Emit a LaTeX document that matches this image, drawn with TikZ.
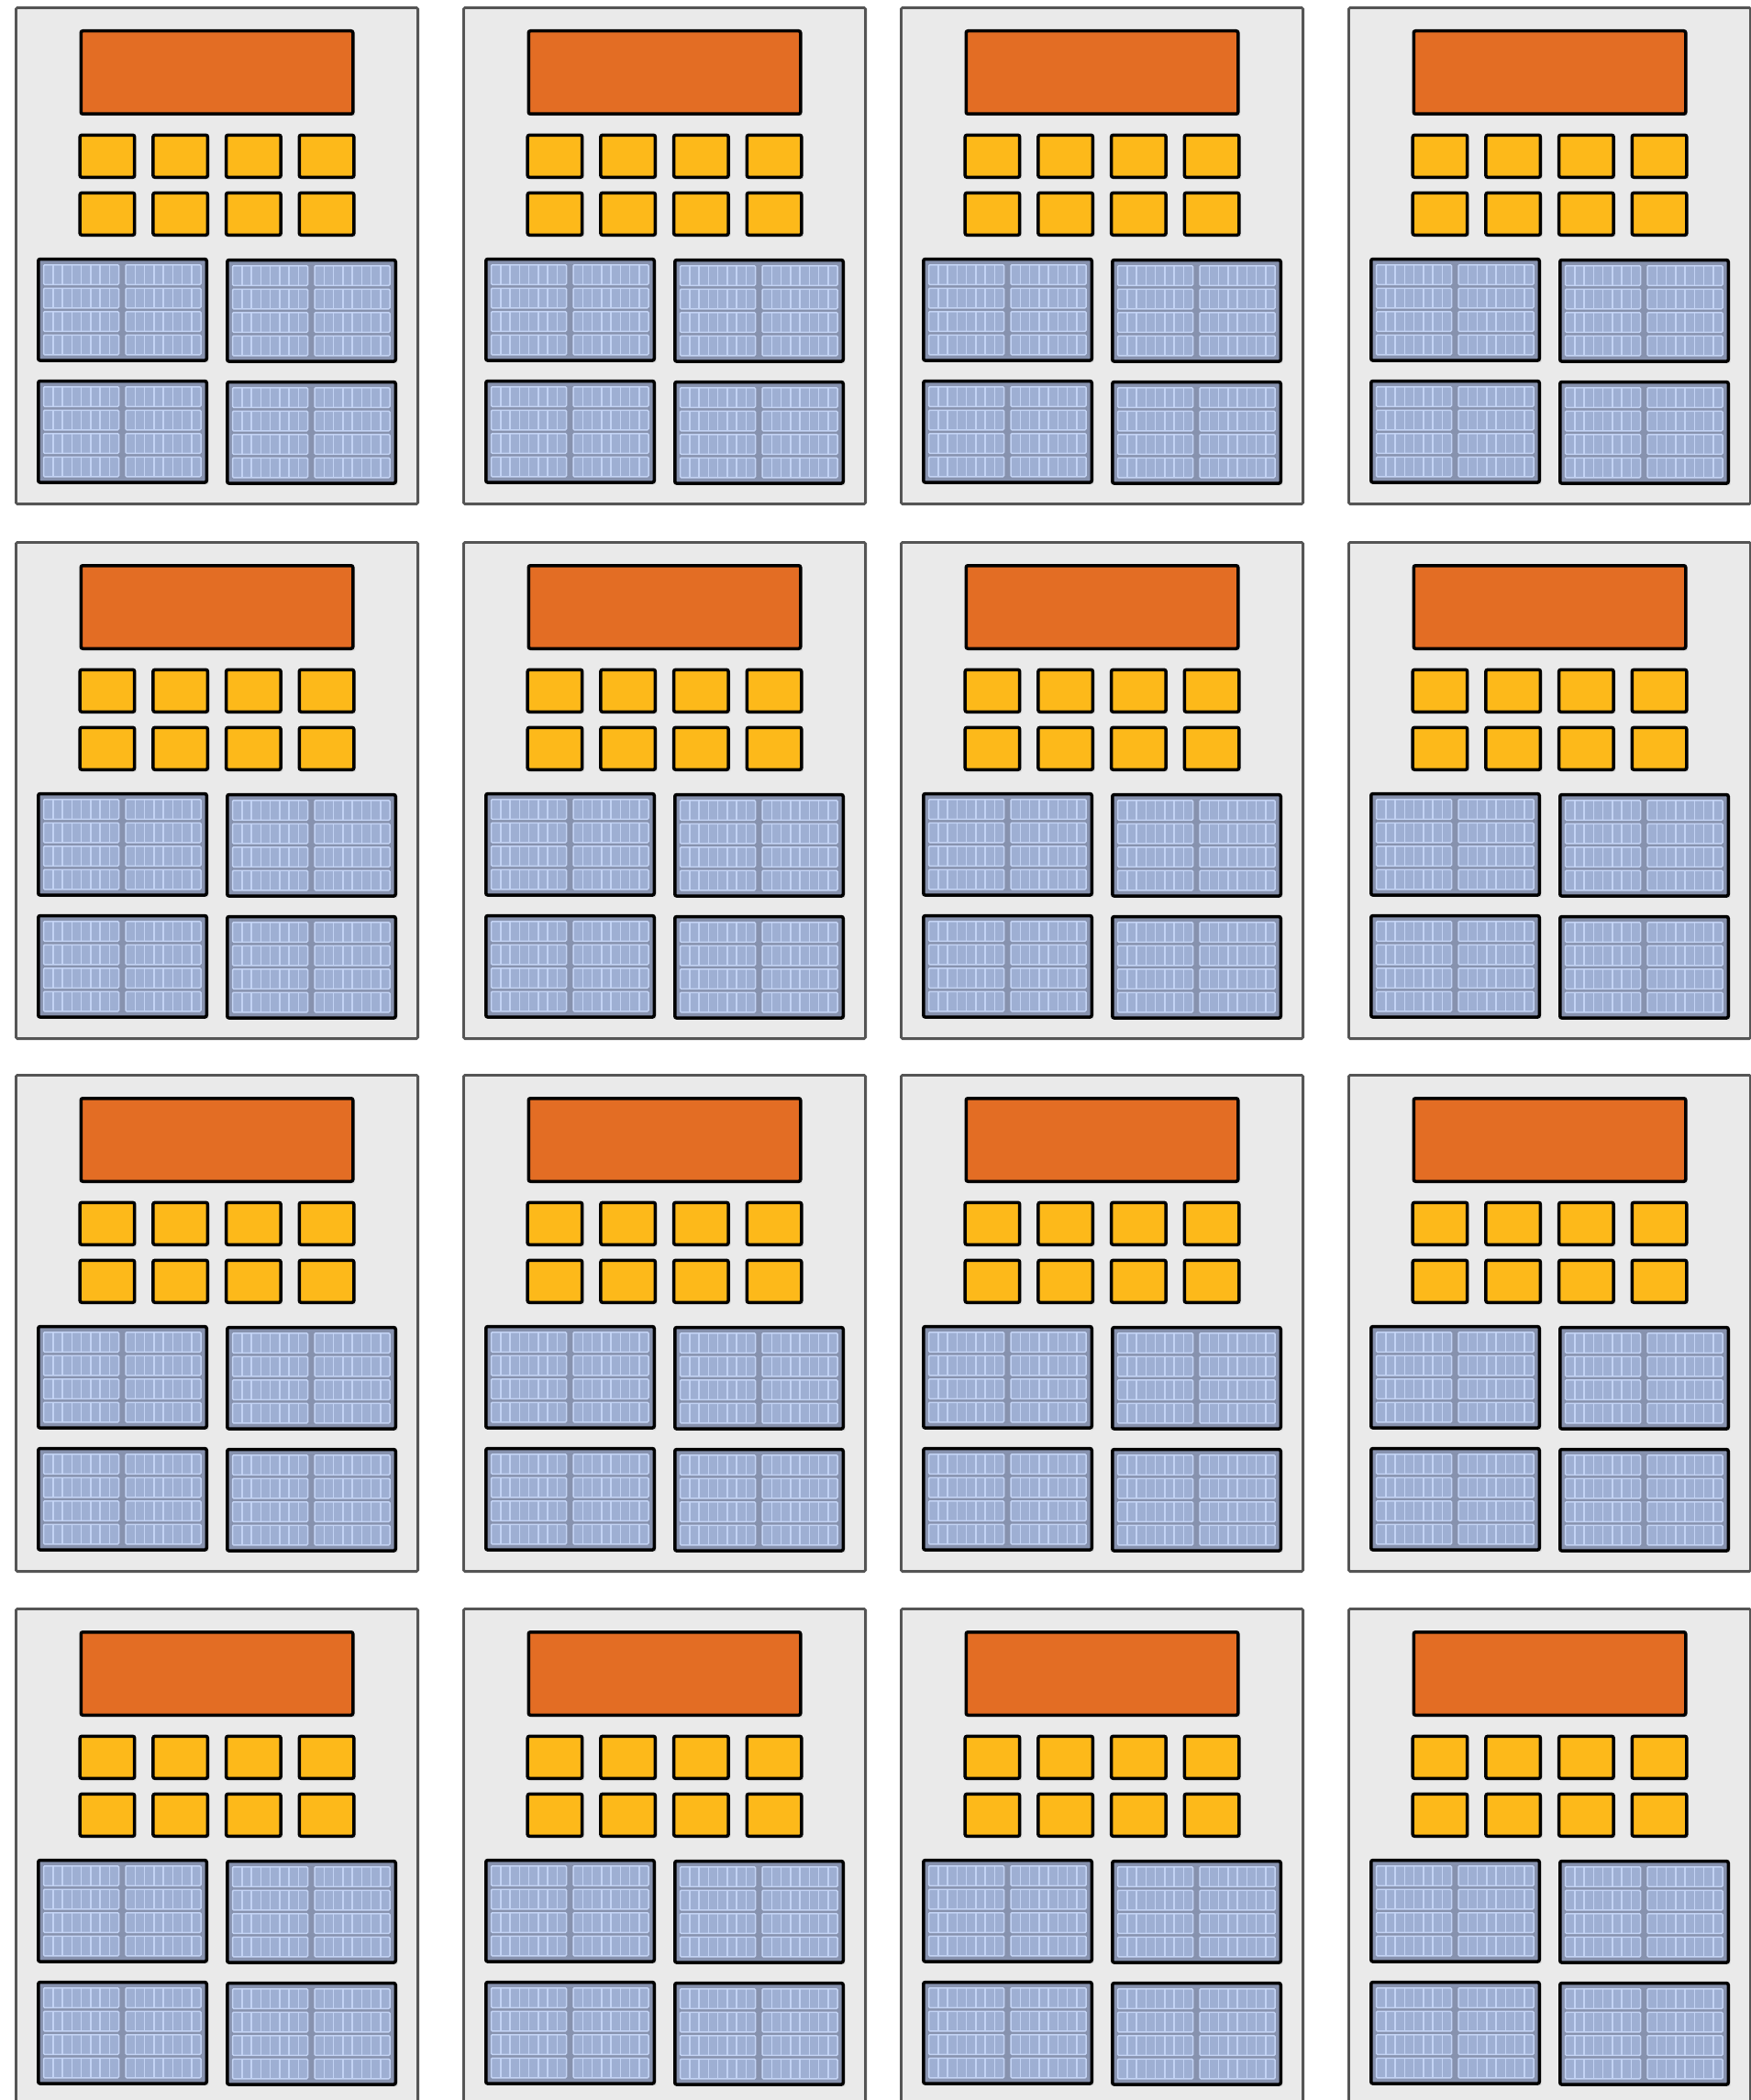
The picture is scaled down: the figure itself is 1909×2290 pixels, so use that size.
\documentclass[tikz,border=0pt]{standalone}
\usepackage{tikz}
\usetikzlibrary{calc,shadows}
\definecolor{chipgray}{HTML}{EAEAEA}
\definecolor{chipline}{HTML}{555555}
\definecolor{ctrlorange}{HTML}{E36D24}
\definecolor{coreyellow}{HTML}{FDB91A}
\definecolor{bankslate}{HTML}{8792AE}
\definecolor{lanecell}{HTML}{9EAFD3}
\definecolor{lanelight}{HTML}{C3D3F4}
\tikzset{
  chip/.style={draw=chipline, fill=chipgray, line width=1.4pt, rounded corners=.8pt, minimum width=219.1pt, minimum height=270.6pt, inner sep=0pt},
  blk/.style={draw=black, line width=1.75pt, rounded corners=1pt, inner sep=0pt, drop shadow={opacity=.15, shadow xshift=1.2pt, shadow yshift=-1.2pt}},
  ctrl/.style={blk, fill=ctrlorange, minimum width=148.25pt, minimum height=45.25pt},
  core/.style={blk, fill=coreyellow, minimum width=29.75pt, minimum height=23pt},
  bank/.style={blk, fill=bankslate, minimum width=91.75pt, minimum height=55.25pt},
  lane/.style={draw=lanelight, fill=lanecell, line width=.75pt, rounded corners=.6pt, minimum width=41pt, minimum height=10.8pt, inner sep=0pt,
    path picture={\foreach \k in {1,...,7}{\draw[lanelight, line width=.75pt] ($(path picture bounding box.south west)!\k/8!(path picture bounding box.south east)$) -- ($(path picture bounding box.north west)!\k/8!(path picture bounding box.north east)$);}}},
}

\begin{document}
\begin{tikzpicture}[x=.5pt, y=-.5pt]
  \clip (0,0) rectangle (1909,2290);
  \fill[white] (0,0) rectangle (1909,2290);
  \foreach \c/\x in {1/236.5, 2/724.5, 3/1201.5, 4/1689.5}{
    \foreach \r/\y in {1/279, 2/862, 3/1443, 4/2025}{
      \begin{scope}[shift={(\x,\y)}]
        \node[chip] (chip\r\c) at (0,0) {};
        \node[ctrl] (ctrl\r\c) at (0,-200) {};
        \foreach \i in {1,...,4}{
          \node[core] (core\r\c a\i) at ({(\i-2.5)*79.7},-108.7) {};
          \node[core] (core\r\c b\i) at ({(\i-2.5)*79.7},-45.7) {};
        }
        \foreach \bx/\by/\b in {-103/58.8/1, 103/59.8/2, -103/191.8/3, 103/192.8/4}{
          \node[bank] (bank\r\c\b) at (\bx,\by) {};
          \foreach \lx [count=\m] in {-45,44.5}{
            \foreach \ly [count=\n] in {-38.25,-12.75,12.75,38.25}{
              \node[lane] (lane\r\c\b\m\n) at ({\bx+\lx},{\by+\ly}) {};
            }
          }
        }
      \end{scope}
    }
  }
\end{tikzpicture}
\end{document}
